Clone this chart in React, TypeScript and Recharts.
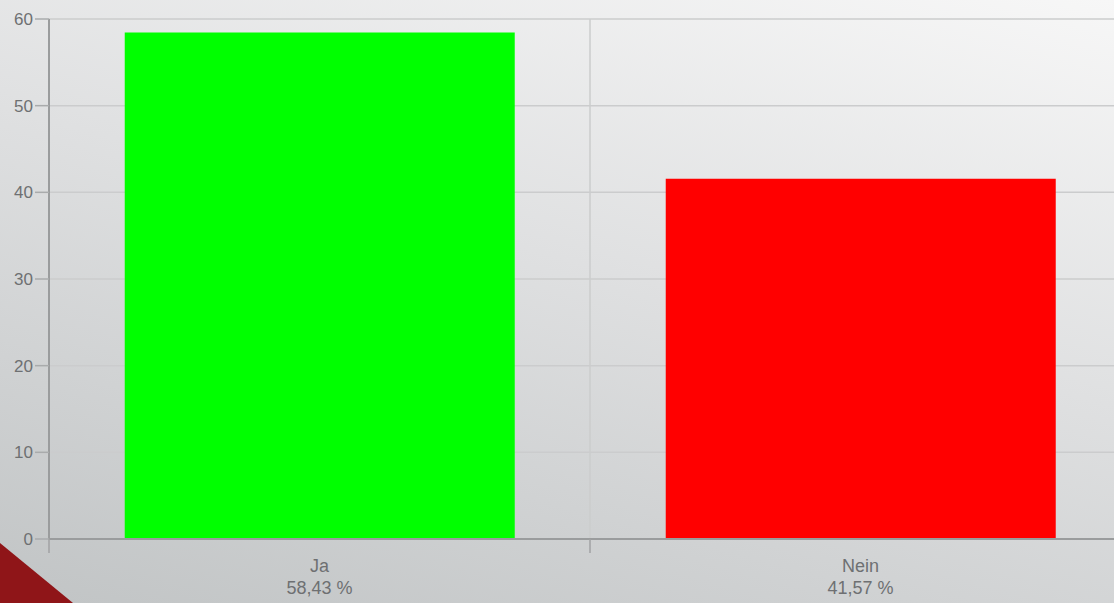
import React from 'react';
import { BarChart, Bar, XAxis, YAxis, CartesianGrid, Cell } from 'recharts';

const categories = ['Ja', 'Nein'];
const percentLabels = ['58,43 %', '41,57 %'];
const values = [58.43, 41.57];
const barColors = ['#00ff00', '#ff0000'];
const yTicks = [0, 10, 20, 30, 40, 50, 60];

const data = categories.map((name, i) => ({
  name,
  pct: percentLabels[i],
  value: values[i],
}));

const FONT = '"Liberation Sans", Arial, sans-serif';

// two-line category label, plus the boundary tick mark left of each band
const CategoryTick = ({ x, y, payload, width, visibleTicksCount }: any) => {
  const band = width / (visibleTicksCount || categories.length);
  const left = x - band / 2;
  return (
    <g>
      <line x1={left} y1={y - 8} x2={left} y2={y + 6} stroke="#a0a2a3" strokeWidth={1.5} />
      <text x={x} y={y + 25} textAnchor="middle" fill="#6e7072" fontSize={18} fontFamily={FONT}>
        {payload.value}
      </text>
      <text x={x} y={y + 47} textAnchor="middle" fill="#6e7072" fontSize={18} fontFamily={FONT}>
        {data[payload.index]?.pct}
      </text>
    </g>
  );
};

export default function App() {
  return (
    <div
      style={{
        position: 'fixed',
        left: 0,
        top: 0,
        width: 1114,
        height: 603,
        overflow: 'hidden',
        background: 'linear-gradient(15deg, #c1c4c5 0%, #dfe0e1 55%, #f7f7f7 100%)',
      }}
    >
      <BarChart
        width={1131}
        height={603}
        data={data}
        margin={{ top: 19, right: 0, left: 0, bottom: 4 }}
        barCategoryGap="14%"
      >
        <CartesianGrid
          stroke="#cbcccd"
          strokeWidth={1.5}
          verticalCoordinatesGenerator={({ offset }: any) => [offset.left + offset.width / 2]}
        />
        <XAxis
          dataKey="name"
          height={60}
          interval={0}
          tickLine={false}
          axisLine={{ stroke: '#9a9c9d', strokeWidth: 2 }}
          tick={<CategoryTick />}
        />
        <YAxis
          width={49}
          domain={[0, 60]}
          ticks={yTicks}
          tickSize={14}
          tickMargin={2}
          axisLine={{ stroke: '#9a9c9d', strokeWidth: 2 }}
          tickLine={{ stroke: '#a9abac', strokeWidth: 1.5 }}
          tick={{ fill: '#6e7072', fontSize: 17, fontFamily: FONT }}
        />
        <Bar dataKey="value" isAnimationActive={false}>
          {data.map((d, i) => (
            <Cell key={d.name} fill={barColors[i]} />
          ))}
        </Bar>
      </BarChart>
      <svg
        width={1114}
        height={603}
        style={{ position: 'absolute', left: 0, top: 0, pointerEvents: 'none' }}
      >
        <polygon points="0,543 73,603 0,603" fill="#8f1518" />
      </svg>
    </div>
  );
}
